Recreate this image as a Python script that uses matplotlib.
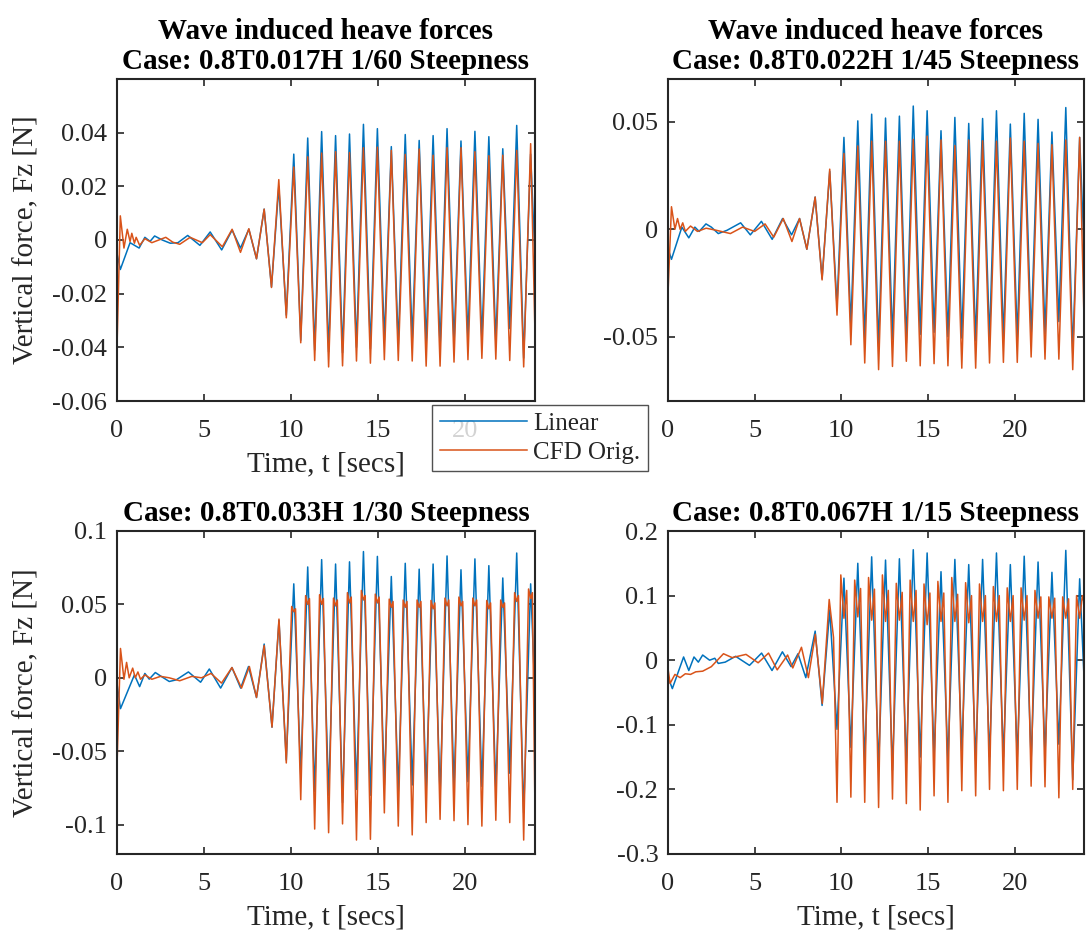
import matplotlib
matplotlib.use("Agg")
import matplotlib.pyplot as plt

plt.rcParams["font.family"] = ["Liberation Serif", "DejaVu Serif"]

BLUE = "#0072BD"
ORANGE = "#D95319"
DARK = "#262626"

# shared crest / trough times of the steady wave train (s)
t_crest = [10.15, 10.95, 11.75, 12.55, 13.35, 14.15, 14.95, 15.75, 16.55,
           17.35, 18.15, 18.95, 19.75, 20.55, 21.35, 22.15, 22.95, 23.75]
t_trough = [10.55, 11.35, 12.15, 12.95, 13.75, 14.55, 15.35, 16.15, 16.95,
            17.75, 18.55, 19.35, 20.15, 20.95, 21.75, 22.55, 23.35]

# ---------------- case 1/60 ----------------
c1_lin_t0 = [0.0, 0.19, 0.75, 1.27, 1.6, 1.9, 2.16, 2.6, 3.06, 3.5, 4.06, 4.76,
             5.35, 6.01, 6.61, 7.09, 7.57, 8.01, 8.45, 8.87, 9.29, 9.72]
c1_lin_v0 = [-0.005, -0.011, -0.001, -0.003, 0.001, -0.0005, 0.0015, 0.0, -0.0012,
             -0.001, 0.0017, -0.002, 0.003, -0.0037, 0.0037, -0.003, 0.004, -0.007,
             0.0115, -0.0175, 0.020, -0.028]
c1_cfd_t0 = [0.0, 0.19, 0.4, 0.59, 0.75, 0.85, 1.0, 1.1, 1.3, 1.6, 2.0, 2.8, 3.2,
             3.6, 4.2, 4.9, 5.35, 6.05, 6.61, 7.09, 7.57, 8.01, 8.45, 8.87, 9.29, 9.72]
c1_cfd_v0 = [-0.04, 0.009, -0.003, 0.004, -0.0006, 0.0025, -0.0012, 0.001, -0.002,
             0.0005, -0.001, 0.001, -0.0008, -0.0016, 0.001, -0.001, 0.002, -0.0025,
             0.004, -0.0046, 0.0042, -0.007, 0.0115, -0.0177, 0.0225, -0.029]
c1_lin_crest = [0.032, 0.038, 0.0404, 0.0389, 0.0395, 0.0431, 0.0415, 0.0348, 0.0393,
                0.0371, 0.0389, 0.0415, 0.0369, 0.0405, 0.0385, 0.034, 0.0427, 0.032]
c1_lin_trough = [-0.0374, -0.041, -0.0417, -0.042, -0.040, -0.0405, -0.0374, -0.039,
                 -0.0374, -0.0386, -0.040, -0.0386, -0.0368, -0.0374, -0.038, -0.033, -0.044]
c1_cfd_crest = [0.0272, 0.031, 0.0324, 0.0329, 0.0326, 0.0344, 0.0346, 0.0334, 0.0319,
                0.0339, 0.0316, 0.0344, 0.0344, 0.0329, 0.0314, 0.0316, 0.0334, 0.0359]
c1_cfd_trough = [-0.0383, -0.0449, -0.0473, -0.0469, -0.0451, -0.0459, -0.0446, -0.0449,
                 -0.0451, -0.047, -0.047, -0.0455, -0.0446, -0.0441, -0.0444, -0.0449, -0.0473]
c1_end = [-0.007, -0.035]

# ---------------- case 1/45 ----------------
c2_lin_t0 = [0.0, 0.2, 0.8, 1.2, 1.55, 1.8, 2.19, 2.5, 2.9, 3.4, 4.19, 4.75, 5.39,
             6.01, 6.61, 7.13, 7.59, 8.01, 8.49, 8.89, 9.33, 9.75]
c2_lin_v0 = [-0.009, -0.014, 0.001, -0.004, 0.001, -0.001, 0.0025, 0.001, -0.002,
             -0.0005, 0.003, -0.0026, 0.0037, -0.0047, 0.005, -0.0026, 0.005, -0.0093,
             0.015, -0.023, 0.027, -0.0357]
c2_cfd_t0 = [0.0, 0.2, 0.4, 0.55, 0.7, 0.85, 1.0, 1.3, 1.7, 2.2, 2.8, 3.6, 4.3, 5.0,
             5.6, 6.1, 6.65, 7.15, 7.59, 8.01, 8.49, 8.89, 9.33, 9.75]
c2_cfd_v0 = [-0.03, 0.0105, 0.0, 0.005, 0.0, 0.003, -0.001, 0.0015, -0.001, 0.0005,
             -0.0005, -0.002, 0.001, -0.001, 0.0025, -0.0037, 0.005, -0.0057, 0.005,
             -0.0093, 0.015, -0.0236, 0.028, -0.040]
c2_lin_crest = [0.0428, 0.0505, 0.0536, 0.0518, 0.0527, 0.0574, 0.0552, 0.0459, 0.0521,
                0.0493, 0.0516, 0.0552, 0.049, 0.054, 0.0512, 0.0453, 0.0567, 0.0428]
c2_lin_trough = [-0.0453, -0.0515, -0.0546, -0.0515, -0.053, -0.049, -0.048, -0.050,
                 -0.0507, -0.052, -0.0515, -0.051, -0.0507, -0.0496, -0.0487, -0.043, -0.0577]
c2_cfd_crest = [0.0353, 0.0388, 0.041, 0.041, 0.041, 0.0419, 0.0434, 0.0416, 0.039,
                0.0416, 0.0412, 0.041, 0.0425, 0.041, 0.040, 0.0394, 0.0416, 0.0428]
c2_cfd_trough = [-0.0538, -0.0623, -0.0654, -0.0639, -0.0615, -0.0636, -0.0626, -0.0636,
                 -0.0647, -0.0647, -0.0623, -0.062, -0.062, -0.0595, -0.0605, -0.0605, -0.0654]
c2_end = [-0.009, -0.042]

# ---------------- case 1/30 ----------------
c3_lin_t0 = [0.0, 0.2, 1.0, 1.3, 1.6, 1.85, 2.2, 2.6, 3.0, 3.4, 4.1, 4.8, 5.3, 5.95,
             6.6, 7.1, 7.55, 8.01, 8.45, 8.9, 9.3, 9.72]
c3_lin_v0 = [-0.004, -0.021, 0.002, -0.006, 0.003, -0.0009, 0.0036, 0.0005, -0.0025,
             -0.0014, 0.004, -0.003, 0.006, -0.007, 0.007, -0.007, 0.0077, -0.0134,
             0.023, -0.0336, 0.039, -0.056]
c3_cfd_t0 = [0.0, 0.2, 0.4, 0.55, 0.7, 0.9, 1.05, 1.2, 1.35, 1.6, 2.0, 2.5, 3.0, 3.6,
             4.3, 4.85, 5.4, 6.0, 6.6, 7.15, 7.6, 8.01, 8.45, 8.9, 9.3, 9.72]
c3_cfd_v0 = [-0.06, 0.02, -0.001, 0.0105, 0.0, 0.0066, 0.0, 0.004, -0.001, 0.002,
             -0.001, 0.001, 0.0, -0.002, 0.001, 0.0, 0.003, -0.0036, 0.007, -0.007,
             0.0077, -0.0134, 0.022, -0.0336, 0.040, -0.058]
c3_lin_crest = [0.064, 0.0755, 0.0805, 0.0775, 0.079, 0.086, 0.0827, 0.069, 0.078,
                0.074, 0.0775, 0.083, 0.0736, 0.081, 0.0764, 0.068, 0.085, 0.064]
c3_lin_trough = [-0.066, -0.0775, -0.080, -0.085, -0.076, -0.080, -0.073, -0.0775,
                 -0.073, -0.076, -0.080, -0.074, -0.0707, -0.074, -0.076, -0.065, -0.092]
c3_cfd_crest_a = [0.0486, 0.056, 0.0566, 0.0543, 0.058, 0.0595, 0.057, 0.0536, 0.053,
                  0.053, 0.0527, 0.0543, 0.055, 0.0543, 0.0527, 0.053, 0.058, 0.0605]
c3_cfd_crest_dip = [0.045, 0.050, 0.050, 0.049, 0.051, 0.053, 0.051, 0.048, 0.048,
                    0.048, 0.047, 0.049, 0.049, 0.049, 0.047, 0.048, 0.052, 0.054]
c3_cfd_crest_b = [0.047, 0.054, 0.054, 0.053, 0.055, 0.056, 0.055, 0.052, 0.052,
                  0.052, 0.051, 0.053, 0.052, 0.053, 0.051, 0.051, 0.056, 0.058]
c3_cfd_trough = [-0.083, -0.103, -0.1055, -0.0995, -0.1105, -0.110, -0.092, -0.101,
                 -0.107, -0.0986, -0.0964, -0.0973, -0.100, -0.101, -0.097, -0.0986, -0.1105]
c3_end = [-0.013, -0.092]

# ---------------- case 1/15 ----------------
c4_lin_t0 = [0.0, 0.25, 0.9, 1.2, 1.5, 1.75, 2.0, 2.4, 2.7, 2.9, 3.3, 3.9, 4.7, 5.4,
             6.0, 6.6, 7.1, 7.5, 7.95, 8.49, 8.89, 9.33, 9.75]
c4_lin_v0 = [-0.026, -0.044, 0.005, -0.016, 0.005, -0.003, 0.008, 0.0, 0.003, -0.005,
             -0.003, 0.006, -0.008, 0.011, -0.016, 0.013, -0.010, 0.010, -0.027, 0.045,
             -0.070, 0.078, -0.107]
c4_cfd_t0 = [0.0, 0.12, 0.4, 0.7, 1.0, 1.3, 1.6, 2.0, 2.5, 3.2, 3.7, 4.5, 5.2, 5.8,
             6.3, 6.9, 7.2, 7.7, 8.1, 8.5, 8.9, 9.3, 9.55, 9.75]
c4_cfd_v0 = [-0.013, -0.036, -0.022, -0.027, -0.021, -0.022, -0.018, -0.017, -0.010,
             0.010, 0.004, 0.009, -0.004, 0.011, -0.015, 0.008, -0.012, 0.020, -0.027,
             0.040, -0.067, 0.094, 0.035, -0.220]
c4_lin_crest = [0.127, 0.150, 0.160, 0.155, 0.157, 0.171, 0.166, 0.137, 0.156,
                0.148, 0.156, 0.166, 0.148, 0.161, 0.152, 0.136, 0.170, 0.126]
c4_lin_trough = [-0.135, -0.155, -0.165, -0.170, -0.160, -0.150, -0.148, -0.155,
                 -0.140, -0.155, -0.150, -0.150, -0.150, -0.155, -0.145, -0.130, -0.185]
c4_cfd_spike = [0.132, 0.124, 0.128, 0.132, 0.119, 0.124, 0.118, 0.122, 0.128,
                0.120, 0.118, 0.114, 0.112, 0.112, 0.108, 0.098, 0.098, 0.100]
c4_cfd_dip = [0.065, 0.067, 0.062, 0.060, 0.062, 0.060, 0.055, 0.060, 0.060,
              0.058, 0.060, 0.060, 0.060, 0.062, 0.065, 0.065, 0.065, 0.065]
c4_cfd_bump = [0.108, 0.111, 0.110, 0.108, 0.105, 0.108, 0.104, 0.104, 0.102,
               0.100, 0.100, 0.100, 0.100, 0.100, 0.098, 0.096, 0.095, 0.100]
c4_cfd_trough = [-0.212, -0.220, -0.228, -0.215, -0.222, -0.232, -0.210, -0.220,
                 -0.202, -0.210, -0.200, -0.202, -0.200, -0.195, -0.196, -0.213, -0.200]
c4_end = [-0.026, 0.09]

titles = ["Wave induced heave forces\nCase: 0.8T0.017H 1/60 Steepness",
          "Wave induced heave forces\nCase: 0.8T0.022H 1/45 Steepness",
          "Case: 0.8T0.033H 1/30 Steepness",
          "Case: 0.8T0.067H 1/15 Steepness"]
ylims = [(-0.06, 0.06), (-0.08, 0.07), (-0.12, 0.1), (-0.3, 0.2)]
yticks = [[-0.06, -0.04, -0.02, 0, 0.02, 0.04],
          [-0.05, 0, 0.05],
          [-0.1, -0.05, 0, 0.05, 0.1],
          [-0.3, -0.2, -0.1, 0, 0.1, 0.2]]
ytick_labels = [["-0.06", "-0.04", "-0.02", "0", "0.02", "0.04"],
                ["-0.05", "0", "0.05"],
                ["-0.1", "-0.05", "0", "0.05", "0.1"],
                ["-0.3", "-0.2", "-0.1", "0", "0.1", "0.2"]]
xticks = [0, 5, 10, 15, 20]


def build(t0, v0, crest_parts, trough, v_end):
    # early transient, then the crest/trough sequence of the wave train
    t, v = list(t0), list(v0)
    for k in range(len(t_crest)):
        for dt, vals in crest_parts:
            t.append(t_crest[k] + dt)
            v.append(vals[k])
        if k < len(trough):
            t.append(t_trough[k])
            v.append(trough[k])
    t.append(24.0)
    v.append(v_end)
    return t, v


series = [
    (build(c1_lin_t0, c1_lin_v0, [(0.0, c1_lin_crest)], c1_lin_trough, c1_end[0]),
     build(c1_cfd_t0, c1_cfd_v0, [(0.0, c1_cfd_crest)], c1_cfd_trough, c1_end[1])),
    (build(c2_lin_t0, c2_lin_v0, [(0.0, c2_lin_crest)], c2_lin_trough, c2_end[0]),
     build(c2_cfd_t0, c2_cfd_v0, [(0.0, c2_cfd_crest)], c2_cfd_trough, c2_end[1])),
    (build(c3_lin_t0, c3_lin_v0, [(0.0, c3_lin_crest)], c3_lin_trough, c3_end[0]),
     build(c3_cfd_t0, c3_cfd_v0,
           [(-0.12, c3_cfd_crest_a), (0.0, c3_cfd_crest_dip), (0.1, c3_cfd_crest_b)],
           c3_cfd_trough, c3_end[1])),
    (build(c4_lin_t0, c4_lin_v0, [(0.0, c4_lin_crest)], c4_lin_trough, c4_end[0]),
     build(c4_cfd_t0, c4_cfd_v0,
           [(-0.18, c4_cfd_spike), (0.0, c4_cfd_dip), (0.16, c4_cfd_bump)],
           c4_cfd_trough, c4_end[1])),
]

W, H = 1087, 931
fig = plt.figure(figsize=(W / 100, H / 100), dpi=100)
fig.patch.set_facecolor("white")

# axes boxes in pixels: left, top, right, bottom
boxes = [(117, 79, 535, 401), (668, 79, 1084, 401),
         (117, 531, 535, 854), (668, 531, 1084, 854)]

axes = []
for i, (l, t, r, b) in enumerate(boxes):
    ax = fig.add_axes([l / W, 1 - b / H, (r - l) / W, (b - t) / H])
    (tl, vl), (tc, vc) = series[i]
    ax.plot(tl, vl, color=BLUE, lw=1.1, label="Linear", solid_joinstyle="round")
    ax.plot(tc, vc, color=ORANGE, lw=1.1, label="CFD Orig.", solid_joinstyle="round")
    ax.set_xlim(0, 24)
    ax.set_ylim(*ylims[i])
    ax.set_xticks(xticks)
    ax.set_xticklabels([str(x) for x in xticks])
    ax.set_yticks(yticks[i])
    ax.set_yticklabels(ytick_labels[i])
    ax.tick_params(direction="in", top=True, right=True, length=5, width=1.2,
                   labelsize=19, colors=DARK)
    ax.tick_params(axis="y", pad=7)
    ax.tick_params(axis="x", pad=14)
    for s in ax.spines.values():
        s.set_linewidth(1.5)
        s.set_color(DARK)
    ax.set_title(titles[i], fontsize=21, fontweight="bold", pad=7, color="black",
                 linespacing=1.15)
    if i in (0, 2):
        ax.set_ylabel("Vertical force, Fz [N]", fontsize=21, color=DARK, va="center")
        ax.yaxis.set_label_coords(-0.2177, 0.5)
    if i != 1:
        ax.set_xlabel("Time, t [secs]", fontsize=21, color=DARK, va="center")
        ax.xaxis.set_label_coords(0.5, -63 / (b - t))
    axes.append(ax)

handles, labels = axes[0].get_legend_handles_labels()
leg = fig.legend(handles, labels, loc="upper left",
                 bbox_to_anchor=(432 / W, 1 - 405 / H), bbox_transform=fig.transFigure,
                 fontsize=18, frameon=True, fancybox=False, borderaxespad=0,
                 handlelength=3.5, handletextpad=0.25, labelspacing=0.25,
                 borderpad=0.3)
leg.get_frame().set_edgecolor(DARK)
leg.get_frame().set_linewidth(1.0)
for txt in leg.get_texts():
    txt.set_color(DARK)

fig.savefig("out.png", dpi=100, facecolor="white")
